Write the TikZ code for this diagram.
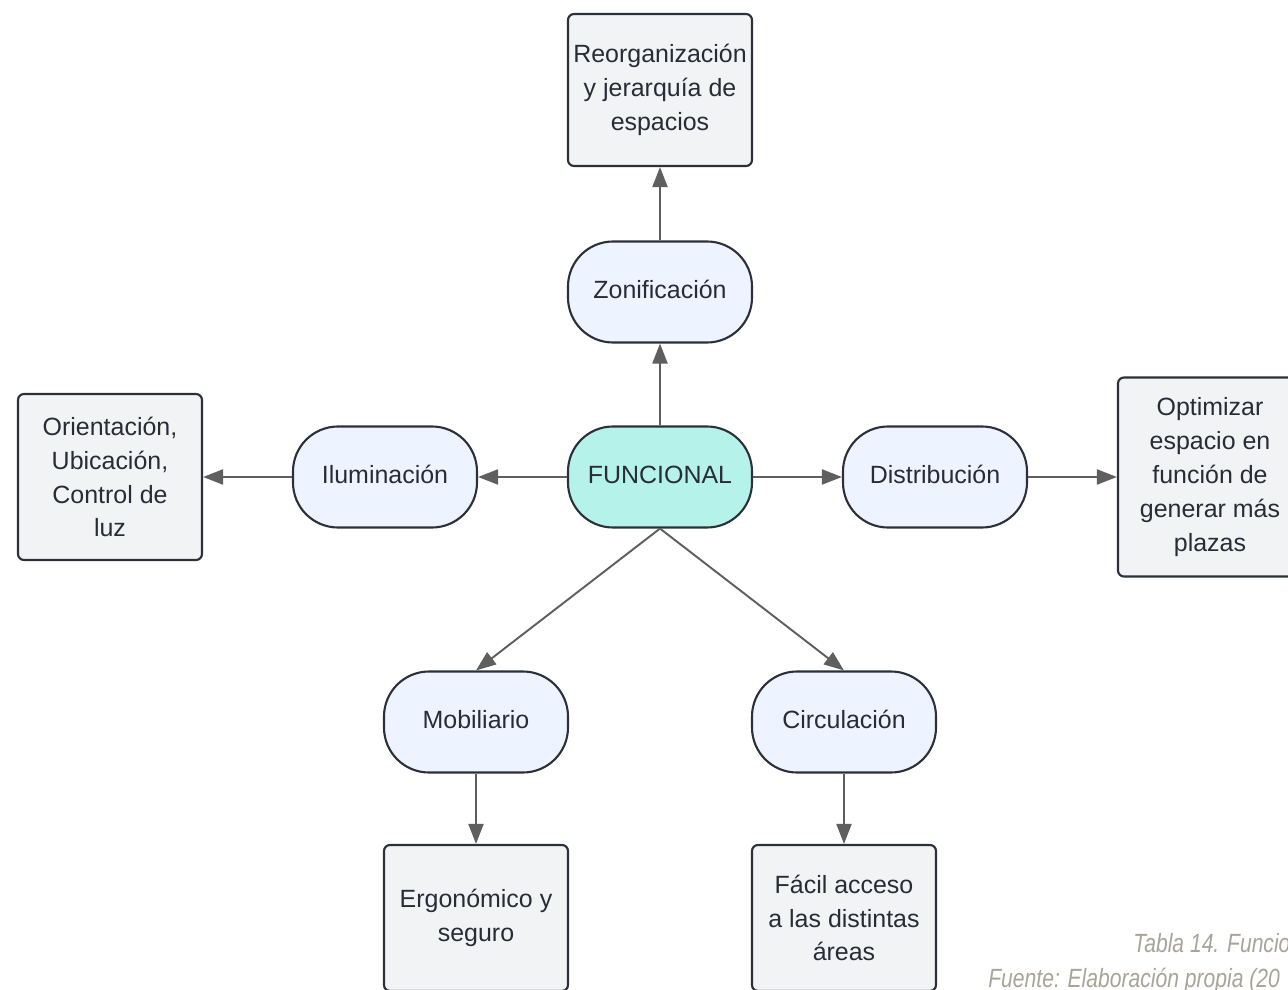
\documentclass[tikz,border=0pt]{standalone}
\usepackage{fontspec}
\setmainfont{Liberation Sans}
\newfontfamily\notefont[FakeStretch=0.8]{Liberation Sans}
\usetikzlibrary{arrows.meta}

\definecolor{edge}{RGB}{44,48,56}
\definecolor{ink}{RGB}{40,44,54}
\definecolor{pill}{RGB}{238,244,255}
\definecolor{core}{RGB}{181,243,234}
\definecolor{boxgray}{RGB}{242,243,245}
\definecolor{arrowgray}{RGB}{95,95,95}
\definecolor{notegray}{RGB}{168,164,152}

\tikzstyle{topic} = [rectangle, rounded corners=0.9cm, minimum width=3.68cm, minimum height=2.02cm, text centered, text height=10.5pt, text depth=3pt, draw=edge, fill=pill, line width=1.2pt, text=ink, font=\fontsize{14.2}{19.3}\selectfont]
\tikzstyle{detail} = [rectangle, rounded corners=0.12cm, minimum width=3.68cm, minimum height=3.04cm, inner sep=2pt, align=center, draw=edge, fill=boxgray, line width=1.2pt, text=ink, font=\fontsize{14.2}{19.3}\selectfont]
\tikzstyle{arrow} = [-{Triangle[length=0.4cm,width=0.3cm]}, draw=arrowgray, fill=arrowgray, line width=1.1pt]
\tikzstyle{note} = [anchor=base west, inner sep=0pt, text=notegray, font=\notefont\itshape\fontsize{15}{18}\selectfont]

\begin{document}
\begin{tikzpicture}[node distance=5.5cm]
		\useasboundingbox (-13.2,-10.24) rectangle (12.56,9.54);
		% Nodes
		\node (funcional) [topic, fill=core] {FUNCIONAL};
		\node (zonificacion) [topic, above of=funcional, node distance=3.7cm] {Zonificación};
		\node (reorganizacion) [detail, above of=zonificacion, node distance=4.04cm] {Reorganización\\y jerarquía de\\espacios};
		\node (iluminacion) [topic, left of=funcional] {Iluminación};
		\node (orientacion) [detail, left of=iluminacion, minimum height=3.32cm] {Orientación,\\Ubicación,\\Control de\\luz};
		\node (distribucion) [topic, right of=funcional] {Distribución};
		\node (optimizar) [detail, right of=distribucion, minimum height=3.98cm] {Optimizar\\espacio en\\función de\\generar más\\plazas};
		\node (mobiliario) [topic] at (-3.68,-4.9) {Mobiliario};
		\node (circulacion) [topic] at (3.68,-4.9) {Circulación};
		\node (ergonomico) [detail, below of=mobiliario, node distance=3.92cm, minimum height=2.92cm] {Ergonómico y\\seguro};
		\node (facil) [detail, below of=circulacion, node distance=3.92cm, minimum height=2.92cm] {Fácil acceso\\a las distintas\\áreas};
		% Arrows
		\draw [arrow] (funcional) -- (zonificacion);
		\draw [arrow] (zonificacion) -- (reorganizacion);
		\draw [arrow] (funcional) -- (iluminacion);
		\draw [arrow] (iluminacion) -- (orientacion);
		\draw [arrow] (funcional) -- (distribucion);
		\draw [arrow] (distribucion) -- (optimizar);
		\draw [arrow] (funcional.south) -- (mobiliario.north);
		\draw [arrow] (funcional.south) -- (circulacion.north);
		\draw [arrow] (mobiliario) -- (ergonomico);
		\draw [arrow] (circulacion) -- (facil);
		% Caption
		\node (tabla) [note] at (9.46,-9.5) {Tabla 14. Funcio};
		\node (fuente) [note] at (6.56,-10.2) {Fuente: Elaboración propia (20};
	\end{tikzpicture}
\end{document}
